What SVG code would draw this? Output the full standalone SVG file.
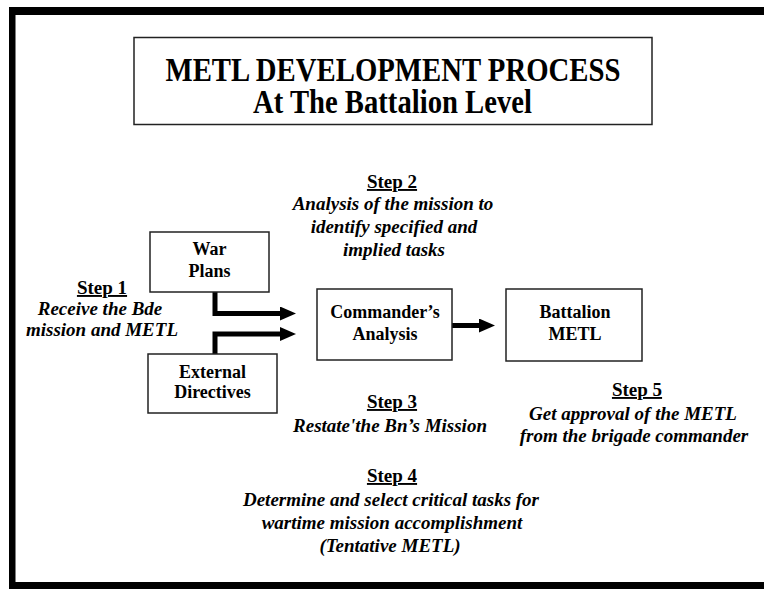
<svg xmlns="http://www.w3.org/2000/svg" width="764" height="589" viewBox="0 0 764 589">
<style>
text{font-family:"Liberation Serif","Times New Roman",serif;font-weight:bold;fill:#000;text-anchor:middle}
.t{font-size:34px}
.n{font-size:18px}
.h{font-size:19px;text-decoration:underline}
.d{font-size:19px;font-style:italic}
.box{fill:#fff;stroke:#222;stroke-width:1.5}
.c{fill:none;stroke:#000;stroke-width:5;stroke-linejoin:miter}
</style>
<defs>
<marker id="ah" viewBox="0 0 16 14" refX="0" refY="7" markerWidth="16" markerHeight="14" markerUnits="userSpaceOnUse" orient="auto">
<path d="M0,0 L16,7 L0,14 z" fill="#000"/>
</marker>
</defs>
<rect width="764" height="589" fill="#fff"/>
<g id="frame" fill="#000">
<rect x="9" y="7" width="755" height="8"/>
<rect x="9" y="7" width="6.5" height="582"/>
<rect x="9" y="582" width="755" height="7"/>
</g>
<g id="title">
<rect class="box" x="134" y="37.5" width="518" height="87"/>
<text class="t" x="393" y="80.5" textLength="455" lengthAdjust="spacingAndGlyphs">METL DEVELOPMENT PROCESS</text>
<text class="t" x="392.5" y="113" textLength="279" lengthAdjust="spacingAndGlyphs">At The Battalion Level</text>
</g>
<g id="connectors">
<path class="c" d="M215,292 V313.5 H280" marker-end="url(#ah)"/>
<path class="c" d="M215,354 V334 H280" marker-end="url(#ah)"/>
<path class="c" d="M452,325.5 H479" marker-end="url(#ah)"/>
</g>
<g id="war-plans">
<rect class="box" x="150" y="232" width="119" height="60"/>
<text class="n" x="209.5" y="255">War</text>
<text class="n" x="209.5" y="277">Plans</text>
</g>
<g id="external-directives">
<rect class="box" x="148" y="354" width="129" height="59"/>
<text class="n" x="212.5" y="378">External</text>
<text class="n" x="212.5" y="398">Directives</text>
</g>
<g id="commanders-analysis">
<rect class="box" x="317" y="289" width="135" height="71"/>
<text class="n" x="385" y="318">Commander’s</text>
<text class="n" x="385" y="340">Analysis</text>
</g>
<g id="battalion-metl">
<rect class="box" x="506" y="289" width="136" height="72"/>
<text class="n" x="575" y="318">Battalion</text>
<text class="n" x="575" y="340">METL</text>
</g>
<g id="step1">
<text class="h" x="102" y="294">Step 1</text>
<text class="d" x="100" y="315">Receive the Bde</text>
<text class="d" x="102" y="336">mission and METL</text>
</g>
<g id="step2">
<text class="h" x="392" y="188">Step 2</text>
<text class="d" x="393" y="210">Analysis of the mission to</text>
<text class="d" x="394" y="233">identify specified and</text>
<text class="d" x="394" y="255.5">implied tasks</text>
</g>
<g id="step3">
<text class="h" x="392" y="408">Step 3</text>
<text class="d" x="390" y="432">Restate'the Bn’s Mission</text>
</g>
<g id="step4">
<text class="h" x="392" y="482">Step 4</text>
<text class="d" x="391" y="506">Determine and select critical tasks for</text>
<text class="d" x="392" y="529">wartime mission accomplishment</text>
<text class="d" x="390" y="552">(Tentative METL)</text>
</g>
<g id="step5">
<text class="h" x="637" y="396">Step 5</text>
<text class="d" x="633" y="420">Get approval of the METL</text>
<text class="d" x="634" y="442">from the brigade commander</text>
</g>
</svg>
